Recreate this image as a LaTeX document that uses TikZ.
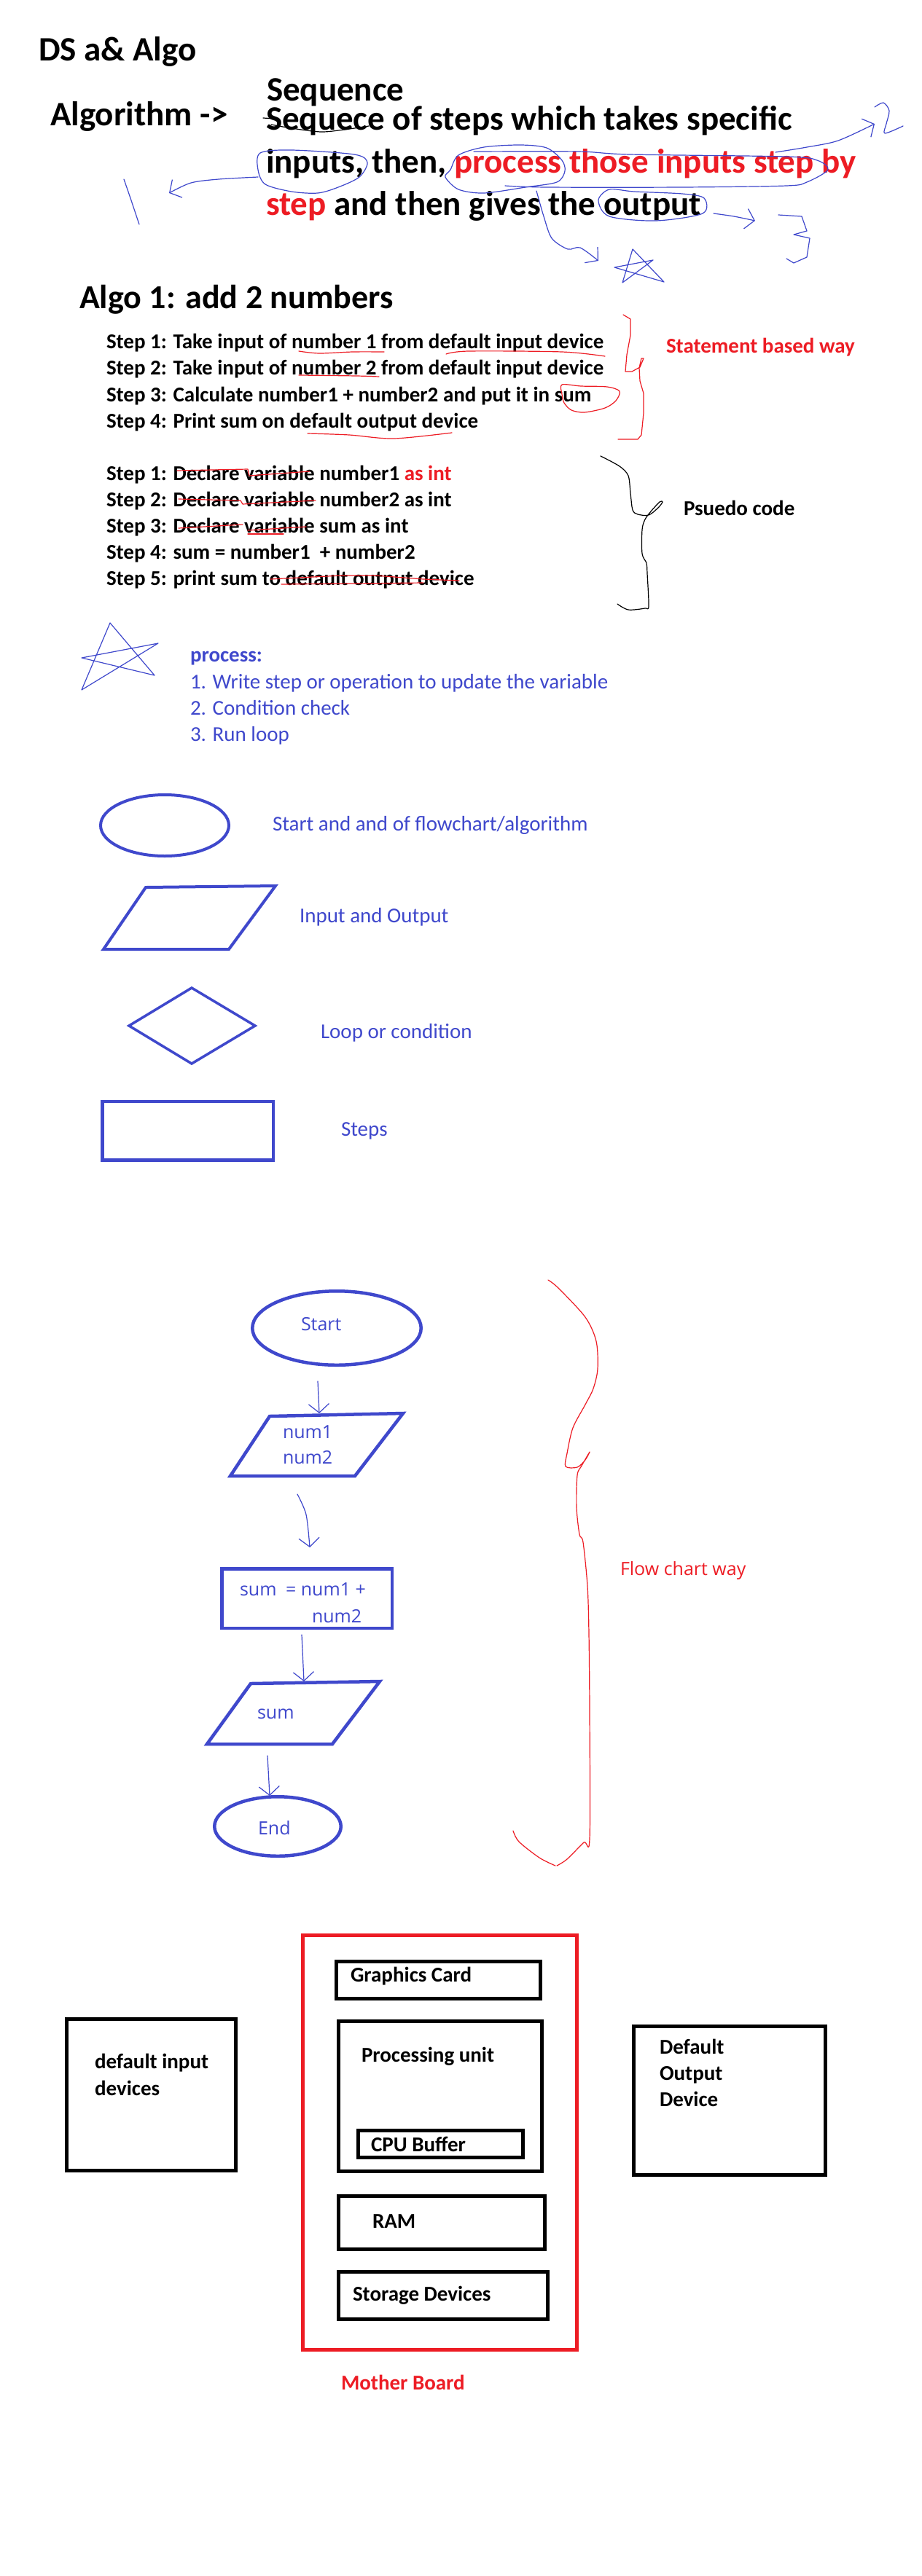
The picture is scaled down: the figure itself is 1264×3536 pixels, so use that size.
\documentclass[tikz,border=0pt]{standalone}
\usepackage{fontspec}
\setmainfont{Carlito}
\newfontfamily\fcfont{Open Sans}
\usetikzlibrary{shapes.geometric,arrows.meta}
\definecolor{pblue}{HTML}{3F48CC}
\definecolor{pred}{HTML}{ED1C24}
\begin{document}
\begin{tikzpicture}[x=1pt,y=-1pt,
  txt/.style={anchor=base west,inner sep=0pt,outer sep=0pt},
  big/.style={txt,font=\fontsize{47}{56}\selectfont\bfseries},
  mid/.style={txt,font=\fontsize{29}{35}\selectfont\bfseries},
  midr/.style={txt,font=\fontsize{29}{35}\selectfont},
  fct/.style={txt,font=\fcfont\fontsize{25}{30}\selectfont,text=pblue},
  shp/.style={draw=pblue,line width=4.5pt,line join=miter},
  hand/.style={line width=1.2pt,line cap=round,line join=round},
  bh/.style={hand,draw=pblue},
  rh/.style={hand,draw=pred},
  kh/.style={hand,draw=black},
  harrow/.style={bh,-{Straight Barb[length=12pt,width=28pt,line width=1.2pt]}},
  kbox/.style={draw=black,line width=5pt,rectangle,inner sep=0pt},
]
\fill[white] (0,0) rectangle (1264,3536);
\useasboundingbox (0,0) rectangle (1264,3536);

% ---------- header ----------
\node[big] (title) at (53,83) {DS a\& Algo};
\node[big] (alg) at (69,172) {Algorithm ->};
\node[big] (seq) at (366,138) {Sequence};
\node[big] (l1) at (365,178) {Sequece of steps which takes specific};
\node[big] (l2) at (365,237) {inputs, then, \textcolor{pred}{process those inputs step by}};
\node[big] (l3) at (365,295) {\textcolor{pred}{step} and then gives the output};

% strike on "Sequece"
\draw[kh] (361,162) -- (379,163);
\draw[kh] plot[smooth] coordinates {(372,171) (400,176) (440,181) (472,178) (506,173)};

% blue annotations
\draw[bh] plot[smooth cycle] coordinates {(357,210) (400,206) (486,212) (504,223) (493,243) (464,257) (436,265) (400,263) (364,253) (354,233)};
\draw[harrow] plot[smooth] coordinates {(354,243) (300,246) (262,251) (232,265)};
\draw[bh] plot[smooth] coordinates {(170,246) (180,275) (191,308)};
\draw[bh] plot[smooth cycle] coordinates {(618,233) (629,213) (664,202) (714,199) (750,203) (771,220) (775,235) (764,250) (721,257) (664,265) (629,260) (611,243)};
\draw[bh] plot[smooth] coordinates {(650,208) (793,208) (864,212) (1079,215) (1121,220) (1136,233) (1107,250) (1079,255) (936,257) (750,257) (693,255)};
\draw[harrow] plot[smooth] coordinates {(1064,209) (1107,202) (1150,193) (1200,170)};
\draw[bh] plot[smooth] coordinates {(1200,147) (1212,141) (1220,152) (1216,170) (1214,183) (1239,173)};
\draw[bh] plot[smooth cycle] coordinates {(836,260) (821,275) (836,297) (900,303) (964,293) (966,272) (936,266) (870,263)};
\draw[harrow] plot[smooth] coordinates {(979,293) (1007,297) (1036,303)};
\draw[bh] (1068,295) -- (1100,297) -- (1107,317) -- (1089,322) -- (1111,327) -- (1107,353) -- (1089,361) -- (1079,355);
\draw[harrow] plot[smooth] coordinates {(736,262) (746,297) (757,327) (779,342) (796,340) (821,358)};
\draw[bh] (868,342) -- (911,387) -- (843,367) -- (896,357) -- (854,388) -- cycle;

% ---------- Algo 1 ----------
\node[big,font=\fontsize{46}{55}\selectfont\bfseries] (algo1) at (109,423) {Algo 1: add 2 numbers};
\node[mid] (s1) at (146,478) {Step 1: Take input of number 1 from default input device};
\node[mid] (s2) at (146,514) {Step 2: Take input of number 2 from default input device};
\node[mid] (s3) at (146,551) {Step 3: Calculate number1 + number2 and put it in sum};
\node[mid] (s4) at (146,587) {Step 4: Print sum on default output device};
\node[mid,text=pred] (stmt) at (914,484) {Statement based way};

\draw[rh] plot[smooth] coordinates {(410,482) (438,485) (484,483) (527,483)};
\draw[rh] plot[smooth] coordinates {(612,486) (643,482) (771,483) (830,489)};
\draw[rh] plot[smooth] coordinates {(410,515) (489,516) (520,517)};
\draw[rh] plot[smooth cycle] coordinates {(771,528) (797,530) (833,531) (850,537) (845,550) (830,560) (802,566) (784,563) (774,553) (771,541)};
\draw[rh] plot[smooth] coordinates {(422,595) (479,597) (540,602) (620,594)};
\draw[rh] (855,432) -- (865,438) -- (865,460) -- (860,487) -- (858,510) -- (867,510) -- (878,504) -- (883,492) -- (880,492) -- (877,505) -- (878,523) -- (883,540) -- (883,567) -- (880,597) -- (875,603) -- (848,603);

\node[mid] (p1) at (146,659) {Step 1: Declare variable number1 \textcolor{pred}{as int}};
\node[mid] (p2) at (146,695) {Step 2: Declare variable number2 as int};
\node[mid] (p3) at (146,731) {Step 3: Declare variable sum as int};
\node[mid] (p4) at (146,767) {Step 4: sum = number1\ \ + number2};
\node[mid] (p5) at (146,803) {Step 5: print sum to default output device};
\node[mid] (pseudo) at (938,707) {Psuedo code};

\draw[rh] (243,646) -- (340,644) -- (342,653) -- (425,647);
\draw[rh] (245,685) -- (330,687) -- (333,692) -- (433,687);
\draw[rh] (245,725) -- (333,720);
\draw[rh] (340,728) -- (420,723);
\draw[rh] (340,733) -- (389,733);
\draw[rh] (371,795) -- (468,790) -- (515,790) -- (581,795) -- (630,797);
\draw[rh] (386,802) -- (581,800);
\draw[kh] plot[smooth] coordinates {(824,626) (850,640) (862,653) (865,677) (868,700) (875,706) (890,707) (903,697) (909,689) (905,689) (893,702) (885,713) (881,727) (881,760) (887,773) (888,787) (890,832) (885,835) (862,837) (847,829)};

% ---------- process ----------
\node[mid,text=pblue] (proc) at (261,908) {process:};
\node[midr,text=pblue] (pr1) at (261,945) {1. Write step or operation to update the variable};
\node[midr,text=pblue] (pr2) at (261,981) {2. Condition check};
\node[midr,text=pblue] (pr3) at (261,1017) {3. Run loop};
\draw[bh] (151,855) -- (212,927) -- (112,903) -- (217,883) -- (112,947) -- cycle;

% ---------- legend ----------
\node[ellipse,draw=pblue,line width=4pt,minimum width=176pt,minimum height=84pt,inner sep=0pt] (lgell) at (226,1133) {};
\node[midr,text=pblue] (lgellt) at (374,1140) {Start and and of flowchart/algorithm};
\draw[shp,line width=4pt] (200,1218) -- (378,1216) -- (314,1303) -- (142,1303) -- cycle;
\node[midr,text=pblue] (lgpart) at (411,1266) {Input and Output};
\draw[shp,line width=3.5pt] (263,1356) -- (350,1408) -- (263,1460) -- (177,1408) -- cycle;
\node[midr,text=pblue] (lgdiat) at (440,1425) {Loop or condition};
\node[rectangle,draw=pblue,line width=4.5pt,minimum width=234.5pt,minimum height=80.5pt,inner sep=0pt] (lgrect) at (257.5,1552) {};
\node[midr,text=pblue] (lgrectt) at (468,1559) {Steps};

% ---------- flowchart ----------
\node[ellipse,shp,minimum width=231.5pt,minimum height=101.5pt,inner sep=0pt] (start) at (462,1823) {};
\node[fct] (startt) at (413,1826) {Start};
\draw[shp] (370,1944) -- (553,1940) -- (487,2026) -- (316,2026) -- cycle;
\node[fct] (in1) at (388,1974) {num1};
\node[fct] (in2) at (388,2009) {num2};
\node[rectangle,shp,minimum width=233.5pt,minimum height=81.5pt,inner sep=0pt] (calc) at (421,2194) {};
\node[fct] (calc1) at (329,2190) {sum\hspace{0.5em}= num1 +};
\node[fct] (calc2) at (428,2227) {num2};
\draw[shp] (344,2311) -- (521,2308) -- (456,2394) -- (284,2394) -- cycle;
\node[fct] (outt) at (353,2359) {sum};
\node[ellipse,shp,minimum width=173.5pt,minimum height=81.5pt,inner sep=0pt] (end) at (381,2507) {};
\node[fct] (endt) at (354,2518) {End};
\node[fct,text=pred] (fcway) at (851,2162) {Flow chart way};

\coordinate (a1s) at (436,1896); \coordinate (a1e) at (438,1940);
\coordinate (a2s) at (408,2051); \coordinate (a2m) at (420,2079); \coordinate (a2e) at (425,2124);
\coordinate (a3s) at (414,2244); \coordinate (a3e) at (417,2308);
\coordinate (a4s) at (367,2410); \coordinate (a4e) at (370,2465);
\draw[harrow] (a1s) -- (a1e);
\draw[harrow] plot[smooth] coordinates {(a2s) (a2m) (a2e)};
\draw[harrow] (a3s) -- (a3e);
\draw[harrow] (a4s) -- (a4e);

\draw[rh] plot[smooth] coordinates {(752,1757) (766,1768) (803,1808) (818,1841) (820,1879) (814,1906) (803,1928) (786,1960) (778,1995) (776,2013) (792,2014) (803,2004) (809,1993) (798,2012) (792,2025) (791,2069) (795,2106) (800,2117) (806,2177) (808,2242) (809,2350) (809,2524) (801,2529) (778,2552) (764,2561)};
\draw[rh] plot[smooth] coordinates {(704,2513) (712,2528) (740,2550) (762,2561)};

% ---------- hardware ----------
\node[rectangle,draw=pred,line width=5pt,minimum width=376pt,minimum height=569pt,inner sep=0pt] (mb) at (603.5,2941) {};
\node[kbox,minimum width=280pt,minimum height=51pt] (gc) at (601.5,2718) {};
\node[mid] (gct) at (481,2720) {Graphics Card};
\node[kbox,minimum width=279pt,minimum height=206pt] (pu) at (604,2877.5) {};
\node[mid] (put) at (496,2830) {Processing unit};
\node[kbox,minimum width=226pt,minimum height=37pt] (cpu) at (604.5,2943) {};
\node[mid] (cput) at (509,2953) {CPU Buffer};
\node[kbox,minimum width=283pt,minimum height=73pt] (ram) at (606,3051) {};
\node[mid] (ramt) at (511,3058) {RAM};
\node[kbox,minimum width=287pt,minimum height=65pt] (sd) at (608,3151) {};
\node[mid] (sdt) at (484,3158) {Storage Devices};
\node[mid,text=pred] (mbt) at (468,3280) {Mother Board};
\node[kbox,minimum width=232pt,minimum height=208pt] (din) at (207.5,2875.5) {};
\node[mid] (din1) at (130,2839) {default input};
\node[mid] (din2) at (130,2876) {devices};
\node[kbox,minimum width=263pt,minimum height=204pt] (dout) at (1001,2883.5) {};
\node[mid] (dout1) at (905,2819) {Default};
\node[mid] (dout2) at (905,2855) {Output};
\node[mid] (dout3) at (905,2891) {Device};
\end{tikzpicture}
\end{document}
